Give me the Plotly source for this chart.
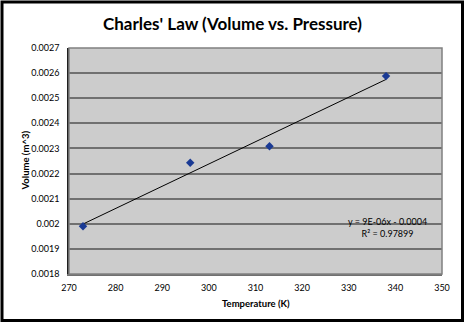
import numpy as np
import plotly.graph_objects as go

# Data
temperature_k = [273, 296, 313, 338]
volume_m3 = [0.00199, 0.002243, 0.002309, 0.002588]

y_tick_vals = [0.0018, 0.0019, 0.002, 0.0021, 0.0022, 0.0023, 0.0024, 0.0025, 0.0026, 0.0027]
y_tick_text = ["0.0018", "0.0019", "0.002", "0.0021", "0.0022", "0.0023", "0.0024", "0.0025", "0.0026", "0.0027"]
x_tick_vals = [270, 280, 290, 300, 310, 320, 330, 340, 350]

title_text = "Charles' Law (Volume vs. Pressure)"
x_title = "Temperature (K)"
y_title = "Volume (m^3)"
trend_label = "y = 9E-06x - 0.0004<br>R² = 0.97899"

W, H = 465, 326
ML, MR, MT, MB = 69, 23, 48, 52
PW, PH = W - ML - MR, H - MT - MB

slope, intercept = np.polyfit(temperature_k, volume_m3, 1)
tx = [min(temperature_k), max(temperature_k)]
ty = [slope * v + intercept for v in tx]

FONT = "Lato"

fig = go.Figure()
fig.add_trace(go.Scatter(x=tx, y=ty, mode="lines",
                         line=dict(color="black", width=1), hoverinfo="skip",
                         showlegend=False))
fig.add_trace(go.Scatter(x=temperature_k, y=volume_m3, mode="markers",
                         marker=dict(symbol="diamond", size=6.5, color="#1a3a94"),
                         showlegend=False))

def px_to_paper_x(px):
    return (px - ML) / PW

def px_to_paper_y(py):
    return (H - MB - py) / PH

shapes = [
    # outer chart border
    dict(type="rect", xref="paper", yref="paper",
         x0=px_to_paper_x(2), x1=px_to_paper_x(462.5),
         y0=px_to_paper_y(320.5), y1=px_to_paper_y(2),
         line=dict(color="black", width=3), layer="above"),
    # plot area frame
    dict(type="rect", xref="paper", yref="paper", x0=0, x1=1, y0=0, y1=1,
         line=dict(color="#808080", width=1.5), layer="above"),
]

fig.update_layout(
    width=W, height=H,
    margin=dict(l=ML, r=MR, t=MT, b=MB),
    paper_bgcolor="white",
    plot_bgcolor="#cccccc",
    font=dict(family=FONT, color="black", size=9),
    title=dict(text="<b>" + title_text + "</b>",
               x=0.5, xref="container", xanchor="center",
               y=1 - 24 / H, yref="container", yanchor="middle",
               font=dict(size=17, family=FONT, color="black")),
    shapes=shapes,
    annotations=[
        dict(x=338.4, y=0.001987, xref="x", yref="y", text=trend_label,
             showarrow=False, align="center",
             font=dict(size=9, family=FONT, color="black")),
        dict(x=0.5, y=px_to_paper_y(303), xref="paper", yref="paper",
             text="<b>" + x_title + "</b>", showarrow=False,
             xanchor="center", yanchor="middle",
             font=dict(size=9.5, family=FONT, color="black")),
        dict(x=px_to_paper_x(24.5), y=0.5, xref="paper", yref="paper",
             text="<b>" + y_title + "</b>", showarrow=False, textangle=-90,
             xanchor="center", yanchor="middle",
             font=dict(size=9.5, family=FONT, color="black")),
    ],
)

fig.update_xaxes(range=[270, 350], tickvals=x_tick_vals, showgrid=False,
                 zeroline=False, showline=True, linecolor="#707070", linewidth=1.5,
                 ticks="outside", ticklen=4, tickcolor="rgba(0,0,0,0)",
                 tickfont=dict(size=9))
fig.update_yaxes(range=[0.0018, 0.0027], tickvals=y_tick_vals, ticktext=y_tick_text,
                 showgrid=True, gridcolor="#707070", gridwidth=2,
                 zeroline=False, showline=True, linecolor="#202020", linewidth=1.5,
                 ticks="outside", ticklen=6, tickcolor="rgba(0,0,0,0)",
                 tickfont=dict(size=9))

fig.write_html("out.html")
